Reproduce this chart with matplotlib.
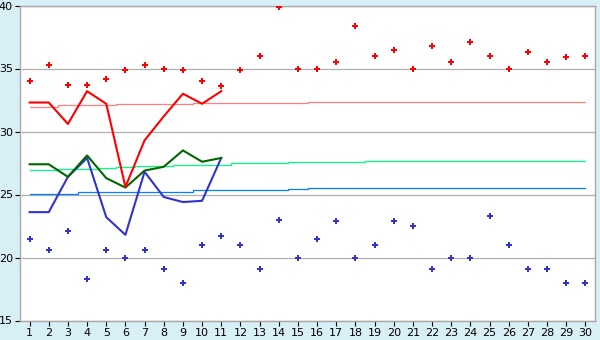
import matplotlib
matplotlib.use("Agg")
import matplotlib.pyplot as plt

days = list(range(1, 31))
line_days = list(range(1, 12))

red_points = [34.0, 35.3, 33.7, 33.7, 34.2, 34.9, 35.3, 35.0, 34.9, 34.0,
              33.6, 34.9, 36.0, 39.9, 35.0, 35.0, 35.5, 38.4, 36.0, 36.5,
              35.0, 36.8, 35.5, 37.1, 36.0, 35.0, 36.3, 35.5, 35.9, 36.0]
blue_points = [21.5, 20.6, 22.1, 18.3, 20.6, 20.0, 20.6, 19.1, 18.0, 21.0,
               21.7, 21.0, 19.1, 23.0, 20.0, 21.5, 22.9, 20.0, 21.0, 22.9,
               22.5, 19.1, 20.0, 20.0, 23.3, 21.0, 19.1, 19.1, 18.0, 18.0]

red_line = [32.3, 32.3, 30.6, 33.2, 32.2, 25.6, 29.3, 31.2, 33.0, 32.2, 33.2]
green_line = [27.4, 27.4, 26.4, 28.1, 26.3, 25.55, 26.9, 27.2, 28.5, 27.6, 27.9]
blue_line = [23.6, 23.6, 26.4, 27.9, 23.2, 21.8, 26.8, 24.8, 24.4, 24.5, 27.9]

red_trend = [31.97, 31.97, 32.08, 32.08, 32.08, 32.18, 32.18, 32.18, 32.18, 32.24,
             32.24, 32.24, 32.24, 32.24, 32.24, 32.32, 32.32, 32.32, 32.32, 32.32,
             32.32, 32.32, 32.32, 32.32, 32.32, 32.32, 32.32, 32.32, 32.32, 32.32]
green_trend = [26.92, 26.92, 27.0, 27.05, 27.1, 27.2, 27.29, 27.29, 27.37, 27.37,
               27.37, 27.48, 27.48, 27.48, 27.56, 27.56, 27.56, 27.56, 27.63, 27.63,
               27.63, 27.63, 27.63, 27.63, 27.63, 27.63, 27.63, 27.63, 27.63, 27.63]
blue_trend = [25.06, 25.06, 25.06, 25.2, 25.22, 25.22, 25.22, 25.22, 25.22, 25.33,
              25.33, 25.33, 25.33, 25.33, 25.47, 25.49, 25.49, 25.49, 25.49, 25.49,
              25.49, 25.49, 25.49, 25.49, 25.49, 25.49, 25.49, 25.49, 25.49, 25.49]

y_ticks = [15, 20, 25, 30, 35, 40]

bg = "#D9EFF6"
fig = plt.figure(figsize=(6.0, 3.4), dpi=100, facecolor=bg)
ax = fig.add_axes([20/600, 1 - 320.5/340, 575/600, 315/340])
ax.set_facecolor("white")

for v in y_ticks:
    ax.axhline(v, color="#B0B0B0", lw=0.9, zorder=0)

ax.plot(days, red_trend, color="#FF8080", lw=0.9, drawstyle="steps-mid", zorder=1)
ax.plot(days, green_trend, color="#00FF80", lw=0.9, drawstyle="steps-mid", zorder=1)
ax.plot(days, blue_trend, color="#0080FF", lw=0.9, drawstyle="steps-mid", zorder=1)

ax.plot(line_days, blue_line, color="#3333CC", lw=1.5, zorder=2)
ax.plot(line_days, green_line, color="#006600", lw=1.5, zorder=3)
ax.plot(line_days, red_line, color="#FF0000", lw=1.5, zorder=4)

ax.plot(days, red_points, ls="none", marker="P", ms=3.7, color="#FF0000",
        mec="#FF0000", mew=0, zorder=5)
ax.plot(days, blue_points, ls="none", marker="P", ms=3.7, color="#3333CC",
        mec="#3333CC", mew=0, zorder=5)

ax.set_xlim(0.5, 30.5)
ax.set_ylim(15, 40)
ax.set_xticks(days)
ax.set_xticklabels([str(d) for d in days])
ax.set_yticks(y_ticks)
ax.tick_params(axis="both", labelsize=8, colors="black", length=3.5, width=0.8, pad=1.5)
ax.tick_params(axis="x", pad=2)
for s in ax.spines.values():
    s.set_color("#A8A8A8")
    s.set_linewidth(1.0)

fig.savefig("out.png", dpi=100, facecolor=bg)
